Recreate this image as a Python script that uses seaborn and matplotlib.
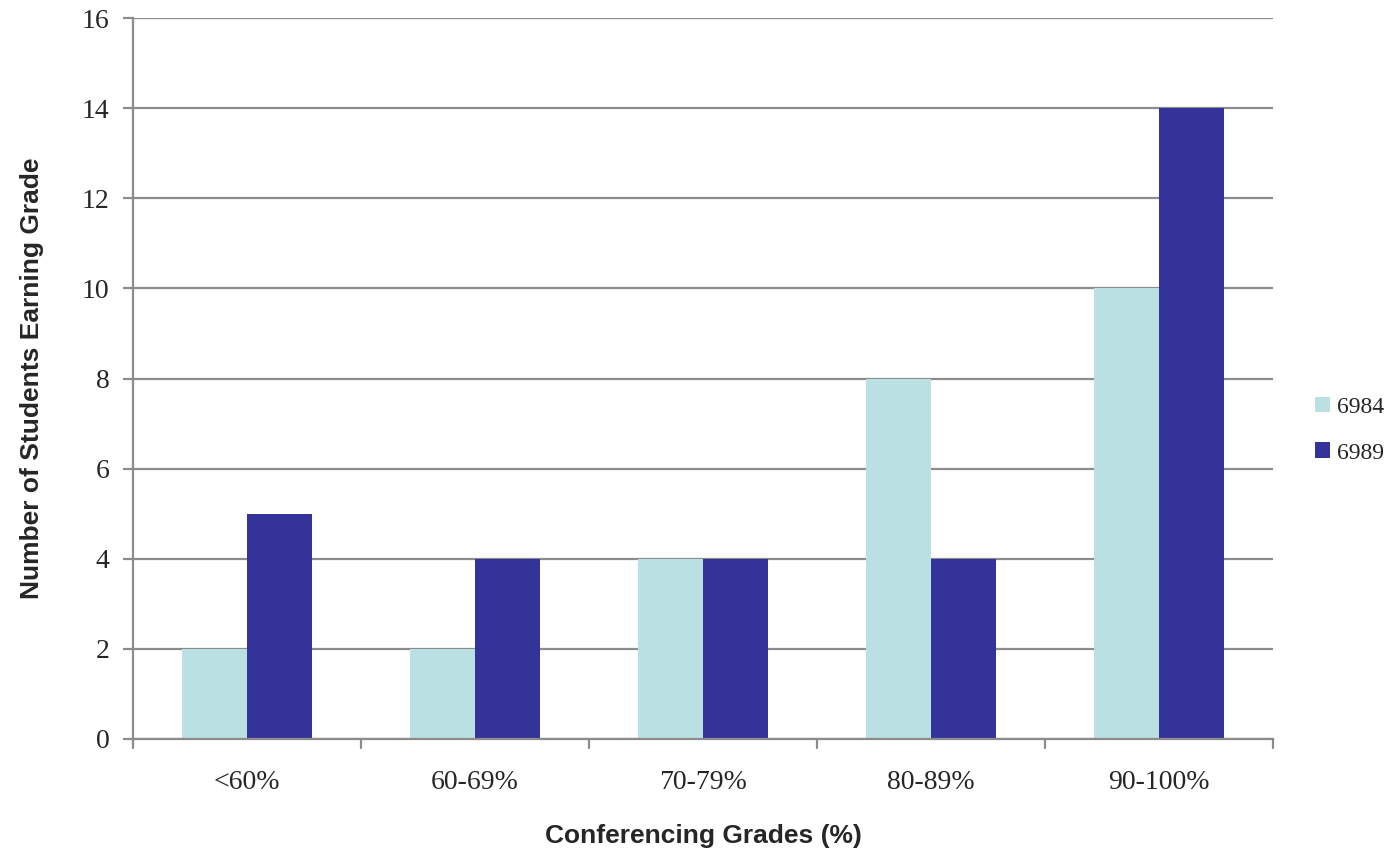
import numpy as np
import pandas as pd
import matplotlib
matplotlib.use('Agg')
import matplotlib.pyplot as plt
import seaborn as sns

categories = ['<60%', '60-69%', '70-79%', '80-89%', '90-100%']
grades_6984 = [2, 2, 4, 8, 10]
grades_6989 = [5, 4, 4, 4, 14]
series_names = ['6984', '6989']
y_ticks = [0, 2, 4, 6, 8, 10, 12, 14, 16]

df = pd.DataFrame({
    'grade': categories * 2,
    'count': grades_6984 + grades_6989,
    'section': [series_names[0]] * 5 + [series_names[1]] * 5,
})

sns.set_style('white')
plt.rcParams['font.family'] = ['Liberation Serif', 'DejaVu Serif']

fig = plt.figure(figsize=(13.95, 8.5), dpi=100)
ax = fig.add_axes([0.0953, 0.1306, 0.8172, 0.8482])

grid_col = '#8c8c8c'
for v in y_ticks:
    ax.axhline(v, color=grid_col, lw=1.6, zorder=0)

sns.barplot(data=df, x='grade', y='count', hue='section',
            palette=['#bae0e3', '#333399'], width=0.57, gap=0,
            saturation=1, edgecolor='none', ax=ax, zorder=2)

ax.set_ylim(0, 16)
ax.set_xlim(-0.5, 4.5)
ax.set_yticks(y_ticks)
ax.set_yticklabels([str(v) for v in y_ticks], fontsize=20)
ax.set_xticks(range(5))
ax.set_xticklabels(categories, fontsize=20)
ax.tick_params(axis='x', length=0, pad=22)
ax.tick_params(axis='y', length=7, width=1.6, color=grid_col, pad=10, left=True)

# boundary ticks on x axis
for b in np.arange(-0.5, 5.0, 1.0):
    ax.plot([b, b], [0, -0.012], transform=ax.get_xaxis_transform(),
            color=grid_col, lw=1.6, clip_on=False)

for s in ['top', 'right']:
    ax.spines[s].set_visible(False)
for s in ['left', 'bottom']:
    ax.spines[s].set_color(grid_col)
    ax.spines[s].set_linewidth(1.6)

ax.set_xlabel('Conferencing Grades (%)', fontsize=19, fontweight='bold',
              family=['Liberation Sans', 'DejaVu Sans'], labelpad=21)
ax.set_ylabel('Number of Students Earning Grade', fontsize=19, fontweight='bold',
              family=['Liberation Sans', 'DejaVu Sans'], labelpad=27)

leg = ax.legend(loc='center left', bbox_to_anchor=(0.934, 0.494),
                bbox_transform=fig.transFigure, frameon=False,
                fontsize=17, handlelength=0.65, handleheight=0.65,
                handletextpad=0.3, labelspacing=1.05, borderpad=0)

fig.savefig('out.png', dpi=100)
